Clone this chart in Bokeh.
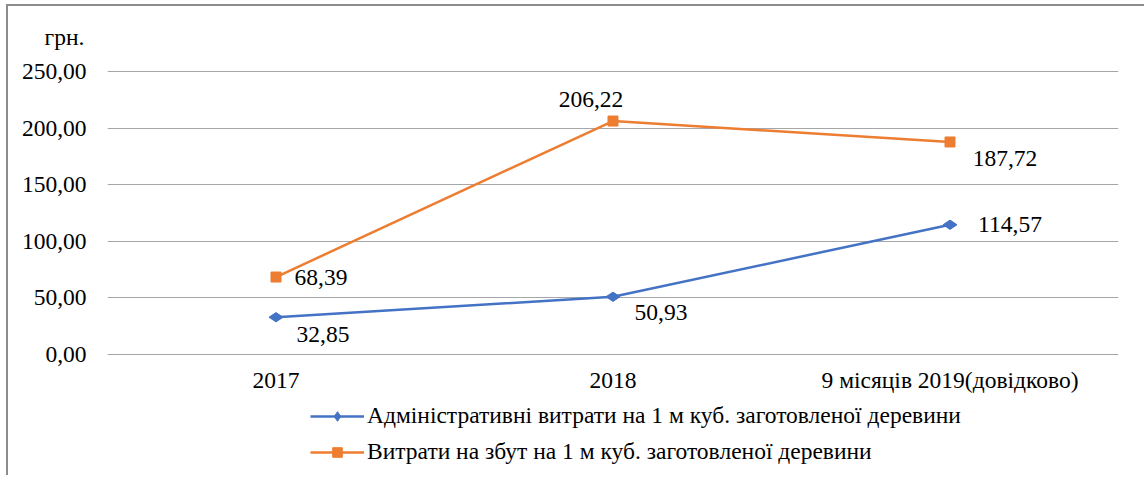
import math
from bokeh.plotting import figure
from bokeh.models import FactorRange, Range1d, FixedTicker, Legend, LegendItem, Title
from bokeh.core.properties import value
from bokeh.embed import file_html
from bokeh.resources import INLINE

categories = ["2017", "2018", "9 місяців 2019(довідково)"]
admin_costs = [32.85, 50.93, 114.57]
sales_costs = [68.39, 206.22, 187.72]
y_ticks = [0, 50, 100, 150, 200, 250]
y_tick_labels = ["0,00", "50,00", "100,00", "150,00", "200,00", "250,00"]
series_names = [
    "Адміністративні витрати на 1 м куб. заготовленої деревини",
    "Витрати на збут на 1 м куб. заготовленої деревини",
]
unit_label = "грн."

FONT = "Liberation Serif"
FS = "23.5px"
BLUE = "#4472C4"
ORANGE = "#ED7D31"
GRID = "#a6a6a6"


def fmt(v):
    return f"{v:.2f}".replace(".", ",")


# the frame extends below zero to host the category labels and the legend
p = figure(
    frame_width=1011, frame_height=412,
    x_range=FactorRange(*categories, range_padding=0),
    y_range=Range1d(-107, 257.07),
    output_backend="svg", toolbar_location=None,
)
p.min_border_left = 99
p.min_border_right = 26
p.min_border_top = 57
p.min_border_bottom = 0
p.outline_line_color = None
p.styles = {"border-left": "2px solid #8c8c8c", "border-top": "2px solid #8c8c8c",
            "margin-left": "6px", "margin-top": "4px"}

p.add_layout(Title(text=unit_label, align="left", offset=-63, standoff=28,
                   text_font=FONT, text_font_size=FS, text_font_style="normal",
                   text_color="#000000"), "above")

# axes
p.yaxis.ticker = FixedTicker(ticks=y_ticks)
p.yaxis.major_label_overrides = {t: l for t, l in zip(y_ticks, y_tick_labels)}
p.yaxis.axis_line_color = None
p.yaxis.major_tick_line_color = None
p.yaxis.minor_tick_line_color = None
p.yaxis.major_label_standoff = 15
p.yaxis.major_label_text_font = FONT
p.yaxis.major_label_text_font_size = FS
p.yaxis.major_label_text_color = "#000000"
p.xaxis.visible = False

p.xgrid.grid_line_color = None
p.ygrid.grid_line_color = GRID
p.ygrid.grid_line_width = 1

# category labels under the zero line
p.text(x=categories, y=[0] * len(categories), text=categories, y_offset=26,
       text_align="center", text_baseline="middle",
       text_font=value(FONT), text_font_size=FS, text_color="#000000")

# series
l1 = p.line(categories, admin_costs, line_color=BLUE, line_width=2.5)
m1 = p.scatter(categories, admin_costs, marker="diamond", size=14, angle=math.pi / 2,
               fill_color=BLUE, line_color=BLUE)
l2 = p.line(categories, sales_costs, line_color=ORANGE, line_width=2.5)
m2 = p.scatter(categories, sales_costs, marker="square", size=10,
               fill_color=ORANGE, line_color=ORANGE)

# data labels (offsets in pixels)
admin_offsets = [(47, 17), (48, 16), (60, 0)]
sales_offsets = [(45, 0), (-22, -22), (55, 17)]
for vals, offs in ((admin_costs, admin_offsets), (sales_costs, sales_offsets)):
    for c, v, (dx, dy) in zip(categories, vals, offs):
        p.text(x=[c], y=[v], text=[fmt(v)], x_offset=dx, y_offset=dy,
               text_align="center", text_baseline="middle",
               text_font=value(FONT), text_font_size=FS, text_color="#000000")

legend = Legend(
    items=[LegendItem(label=series_names[0], renderers=[l1, m1]),
           LegendItem(label=series_names[1], renderers=[l2, m2])],
    location=(203, 10),
    orientation="vertical",
    glyph_width=54, glyph_height=24, label_height=24,
    label_standoff=3, spacing=9, padding=0, margin=0,
    border_line_color=None, background_fill_alpha=0,
    label_text_font=FONT, label_text_font_size=FS, label_text_color="#000000",
)
p.add_layout(legend)

open("out.html", "w").write(file_html(p, INLINE))
